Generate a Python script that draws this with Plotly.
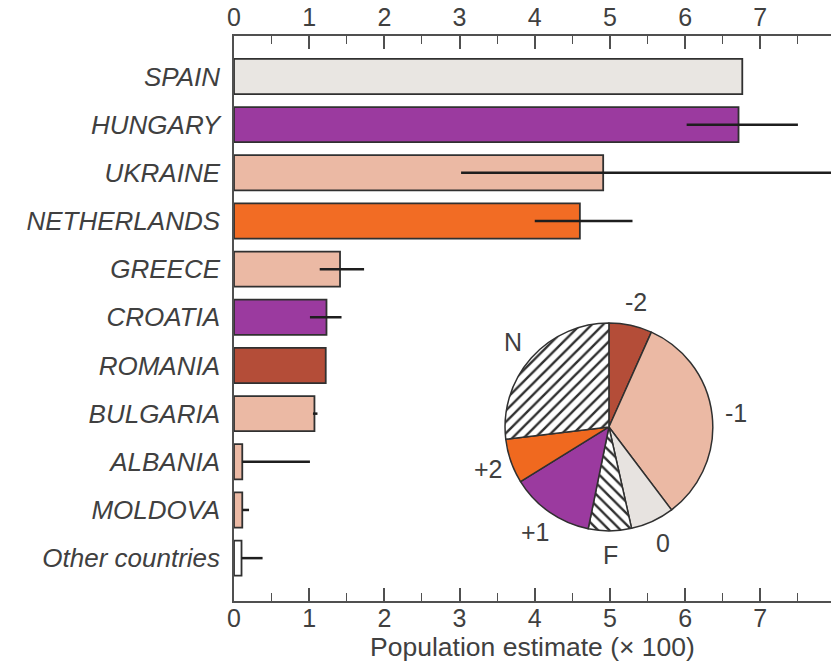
import math
import plotly.graph_objects as go

countries = ["SPAIN", "HUNGARY", "UKRAINE", "NETHERLANDS", "GREECE", "CROATIA",
             "ROMANIA", "BULGARIA", "ALBANIA", "MOLDOVA", "Other countries"]
estimates = [6.76, 6.71, 4.91, 4.60, 1.41, 1.23, 1.22, 1.07, 0.11, 0.11, 0.10]
range_low = [6.76, 6.02, 3.02, 4.00, 1.14, 1.01, 1.22, 1.05, 0.11, 0.11, 0.10]
range_high = [6.76, 7.50, 8.00, 5.30, 1.73, 1.43, 1.22, 1.11, 1.01, 0.20, 0.38]
bar_colors = ["#e9e6e2", "#9b3a9f", "#ebb9a4", "#f26c24", "#ebb9a4", "#9b3a9f",
              "#b44d38", "#ebb9a4", "#ebb9a4", "#ebb9a4", "#ffffff"]

pie_labels = ["-2", "-1", "0", "F", "+1", "+2", "N"]
pie_values = [6.7, 33.0, 6.8, 6.7, 13.0, 6.9, 26.9]
pie_colors = ["#b44d38", "#ebb9a4", "#e7e3e0", "#ffffff", "#9b3a9f", "#f0691f", "#ffffff"]
pie_hatch = ["", "", "", "\\", "", "", "/"]

err_plus = [h - v for h, v in zip(range_high, estimates)]
err_minus = [v - l for l, v in zip(range_low, estimates)]

FONT = "Liberation Sans, Arial, Helvetica, sans-serif"
TXT = "#404040"
AX = "#505050"

W, H = 831, 667
ML, MR, MT, MB = 234, 0, 36, 66
PW, PH = W - ML - MR, H - MT - MB
pie_dom_x = [0.454, 0.802]
pie_dom_y = [0.124, 0.492]

fig = go.Figure()
fig.add_trace(go.Bar(
    x=estimates, y=countries, orientation="h",
    marker=dict(color=bar_colors, line=dict(color="#303030", width=1.8)),
    width=0.73,
    error_x=dict(type="data", array=err_plus, arrayminus=err_minus, symmetric=False,
                 color="#1e1e1e", thickness=2.5, width=0),
    hoverinfo="skip", showlegend=False,
))
fig.add_trace(go.Scatter(
    x=estimates, y=countries, xaxis="x2", mode="markers",
    marker=dict(opacity=0), hoverinfo="skip", showlegend=False,
))
fig.add_trace(go.Pie(
    labels=pie_labels, values=pie_values, sort=False, direction="clockwise", rotation=0,
    marker=dict(colors=pie_colors, line=dict(color="#303030", width=1.5),
                pattern=dict(shape=pie_hatch, fgcolor="#303030", size=8, solidity=0.3)),
    textinfo="none",
    domain=dict(x=pie_dom_x, y=pie_dom_y),
    hoverinfo="skip", showlegend=False,
))

# slice labels placed just outside the pie at each slice's mid-angle
cx_px = ML + PW * (pie_dom_x[0] + pie_dom_x[1]) / 2
cy_px = MT + PH * (1 - (pie_dom_y[0] + pie_dom_y[1]) / 2)
r_px = min(PW * (pie_dom_x[1] - pie_dom_x[0]), PH * (pie_dom_y[1] - pie_dom_y[0])) / 2
total = sum(pie_values)
cum = 0.0
for lab, val in zip(pie_labels, pie_values):
    mid = (cum + val / 2) / total * 2 * math.pi
    cum += val
    d = r_px + 24
    px = cx_px + d * math.sin(mid)
    py = cy_px - d * math.cos(mid)
    fig.add_annotation(
        x=(px - ML) / PW, y=1 - (py - MT) / PH, xref="paper", yref="paper",
        text=lab, showarrow=False, xanchor="center", yanchor="middle",
        font=dict(family=FONT, size=25, color=TXT),
    )

axis_common = dict(
    range=[0, 7.94], dtick=1, tick0=0, ticks="inside", ticklen=13, tickwidth=1.5,
    tickcolor=AX, showline=True, linecolor=AX, linewidth=1.5, showgrid=False,
    zeroline=False, tickfont=dict(family=FONT, size=25, color=TXT), automargin=False,
    minor=dict(dtick=0.5, tick0=0, ticks="inside", ticklen=8, tickwidth=1.2, tickcolor=AX),
)

fig.update_layout(
    width=W, height=H,
    margin=dict(l=ML, r=MR, t=MT, b=MB, autoexpand=False),
    paper_bgcolor="white", plot_bgcolor="white",
    font=dict(family=FONT, color=TXT),
    xaxis=dict(**axis_common, side="bottom", ticklabelstandoff=-6,
               title=dict(text="Population estimate (× 100)",
                          font=dict(family=FONT, size=26.5, color=TXT), standoff=0)),
    xaxis2=dict(**axis_common, side="top", overlaying="x", anchor="y", ticklabelstandoff=-2),
    yaxis=dict(type="category", categoryorder="array", categoryarray=countries,
               range=[10.89, -0.84], showline=True, linecolor=AX, linewidth=1.5,
               ticks="", showgrid=False, zeroline=False, ticklabelstandoff=7,
               automargin=False,
               tickfont=dict(family=FONT, size=26, color=TXT, style="italic")),
    bargap=0.27,
)

fig.write_html("out.html", config={"displayModeBar": False},
               post_script="document.body.style.margin='0';document.body.style.overflow='hidden';")
